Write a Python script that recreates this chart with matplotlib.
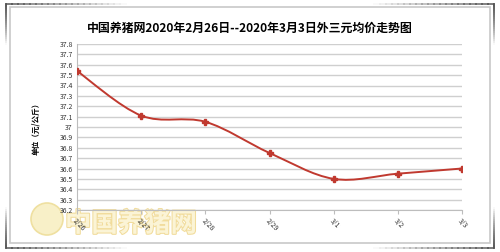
import numpy as np
import matplotlib
matplotlib.use('Agg')
import matplotlib.pyplot as plt
import matplotlib.patheffects as pe
from matplotlib.path import Path
from matplotlib.patches import PathPatch, Rectangle, Circle
from matplotlib.lines import Line2D

plt.rcParams['font.family'] = ['Noto Sans CJK SC', 'DejaVu Sans']

dates = ['2/26', '2/27', '2/28', '2/29', '3/1', '3/2', '3/3']
prices = [37.54, 37.11, 37.05, 36.75, 36.50, 36.55, 36.60]
yticks = np.round(np.arange(36.2, 37.81, 0.1), 1)
title = '中国养猪网2020年2月26日--2020年3月3日外三元均价走势图'
red = '#C0392F'

fig = plt.figure(figsize=(5, 2.52), dpi=100)
W, H = 500, 252

# outer frame (figure pixel coords)
fig.add_artist(Rectangle((10 / W, 9 / H), 480 / W, 236 / H, transform=fig.transFigure,
                         fill=False, edgecolor='#c8c8c8', lw=1.2))
for i in range(20):
    a = 0.8 * (1 - i / 20)
    kw = dict(transform=fig.transFigure, color='#404040', alpha=a, lw=1.2)
    for yy in (H - 4, 4):
        fig.add_artist(Line2D([(6 + i * 6) / W, (12 + i * 6) / W], [yy / H] * 2, **kw))
        fig.add_artist(Line2D([(494 - i * 6) / W, (488 - i * 6) / W], [yy / H] * 2, **kw))
    for xx in (6, 494):
        fig.add_artist(Line2D([xx / W] * 2, [1 - (4 + i * 2) / H, 1 - (6 + i * 2) / H], **kw))
        fig.add_artist(Line2D([xx / W] * 2, [(4 + i * 2) / H, (6 + i * 2) / H], **kw))

# watermark
wm = fig.add_axes([0, 0, 1, 1], zorder=-1)
wm.set_xlim(0, W)
wm.set_ylim(H, 0)
wm.axis('off')
wm.add_patch(Circle((47, 219), 16, facecolor='#f8f0c8', edgecolor='#efe0a0', lw=1.2))
wm.text(65, 224, '中国养猪网', fontsize=19, fontweight='bold', color='#fbf4d6',
        va='center', ha='left',
        path_effects=[pe.withStroke(linewidth=1.5, foreground='#f1dc9c')])

ax = fig.add_axes([77 / W, 42 / H, 385 / W, 166 / H])
ax.patch.set_alpha(0)
x = np.arange(len(dates))
y = np.array(prices)

# smoothed line (Catmull-Rom -> cubic Bezier)
verts = [(x[0], y[0])]
codes = [Path.MOVETO]
for i in range(len(x) - 1):
    p0 = np.array([x[max(i - 1, 0)], y[max(i - 1, 0)]])
    p1 = np.array([x[i], y[i]])
    p2 = np.array([x[i + 1], y[i + 1]])
    p3 = np.array([x[min(i + 2, len(x) - 1)], y[min(i + 2, len(x) - 1)]])
    c1 = p1 + (p2 - p0) / 6
    c2 = p2 - (p3 - p1) / 6
    verts += [tuple(c1), tuple(c2), tuple(p2)]
    codes += [Path.CURVE4] * 3
ax.add_patch(PathPatch(Path(verts, codes), fill=False, edgecolor=red, lw=1.4, zorder=3))
ax.plot(x, y, linestyle='none', marker='P', markersize=4, color=red, zorder=4)

ax.set_xlim(0, len(dates) - 1)
ax.set_ylim(36.2, 37.8)
ax.set_yticks(yticks)
ax.set_yticklabels([f'{v:g}' for v in yticks])
ax.set_xticks(x)
ax.set_xticklabels(dates, rotation=-45, ha='left', va='top', rotation_mode='anchor')
ax.grid(axis='y', color='#cfcfcf', lw=1)
ax.set_axisbelow(True)
for s in ['top', 'right']:
    ax.spines[s].set_visible(False)
ax.spines['left'].set_color('#bdbdbd')
ax.spines['bottom'].set_color('#bdbdbd')
ax.tick_params(axis='y', length=0, labelsize=5, pad=3, labelcolor='#333333')
ax.tick_params(axis='x', length=3, color='#bdbdbd', labelsize=5, pad=2, labelcolor='#333333')

ax.set_ylabel('单位（元/公斤）', fontsize=5.5, fontweight='bold', labelpad=14)
fig.text(0.5, 1 - 28 / H, title, ha='center', va='center', fontsize=8.6, fontweight='bold')

fig.savefig('out.png', dpi=100)
